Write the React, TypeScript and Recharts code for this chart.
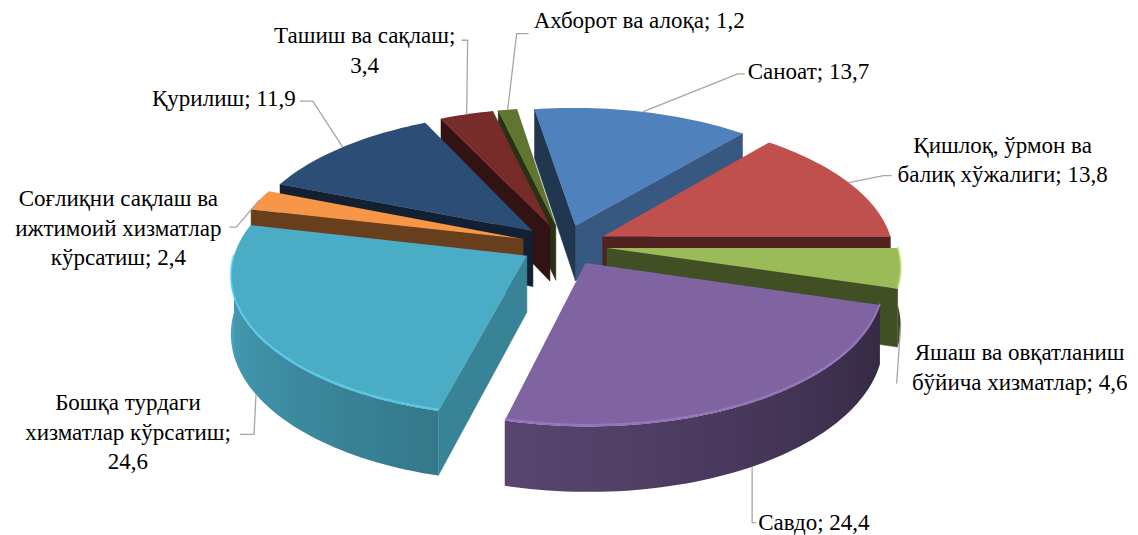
import React from 'react';
import { PieChart, Pie } from 'recharts';

const categories = [
  'Саноат',
  'Қишлоқ, ўрмон ва\nбалиқ хўжалиги',
  'Яшаш ва овқатланиш\nбўйича хизматлар',
  'Савдо',
  'Бошқа турдаги\nхизматлар кўрсатиш',
  'Соғлиқни сақлаш ва\nижтимоий хизматлар\nкўрсатиш',
  'Қурилиш',
  'Ташиш ва сақлаш',
  'Ахборот ва алоқа',
];
const shares = [13.7, 13.8, 4.6, 24.4, 24.6, 2.4, 11.9, 3.4, 1.2];
// value goes to its own line in these labels
const valueOnNewLine = [false, false, false, false, true, false, false, true, false];
const sliceColors = ['#4F81BD', '#C0504D', '#9BBB59', '#8064A2', '#4BACC6', '#F79646', '#2C4D75', '#772C2A', '#5F7530'];

const data = categories.map((name, i) => ({ name, value: shares[i], idx: i }));

// 3d look
const START = 99;
const TILT = 0.474;
const PERSP = 0.128;
const DEPTH = 56;
const EXPLODE = 43;
const RAD = Math.PI / 180;
const FONT = '"Liberation Serif", "Times New Roman", serif';

// leader line + text placement, relative to where the leader leaves the slice
const labelPlacement = [
  { elbow: [95, -38], end: [102, -38], text: [105, -41], anchor: 'start' },
  { elbow: [35, -7], end: [43, -7], text: [154, -38], anchor: 'middle' },
  { elbow: [-4, 58], end: [-4, 58], text: [119, 27], anchor: 'middle' },
  { elbow: [0, 56], end: [4, 56], text: [6, 55], anchor: 'start' },
  { elbow: [-2, 40], end: [-16, 40], text: [-128, 8], anchor: 'middle' },
  { elbow: [-23, 27], end: [-30, 27], text: [-141, -2], anchor: 'middle' },
  { elbow: [-30, -46], end: [-43, -46], text: [-47, -49], anchor: 'end' },
  { elbow: [1, -74], end: [-5, -74], text: [-102, -79], anchor: 'middle' },
  { elbow: [9, -76], end: [21, -76], text: [26, -90], anchor: 'start' },
];

type Pt = [number, number];

const total = shares.reduce((a, b) => a + b, 0);
const mids = (() => {
  let acc = 0;
  return shares.map((v) => {
    const m = START - ((acc + v / 2) / total) * 360;
    acc += v;
    return m;
  });
})();
// back slices first
const drawOrder = shares
  .map((_, i) => i)
  .sort((a, b) => Math.sin(mids[b] * RAD) - Math.sin(mids[a] * RAD));

const proj = (cx: number, cy: number, R: number, x: number, y: number, drop = 0): Pt => {
  const f = 1 / (1 + (PERSP * y) / R);
  return [cx + x * f, cy - TILT * y * f + drop * f];
};

const shade = (hex: string, s: number) => {
  const n = parseInt(hex.slice(1), 16);
  const c = [(n >> 16) & 255, (n >> 8) & 255, n & 255].map((v) => Math.max(0, Math.min(255, Math.round(v * s))));
  return `rgb(${c[0]},${c[1]},${c[2]})`;
};

const norm = (a: number) => ((a % 360) + 360) % 360;
const wallShade = (t: number) => {
  const a = norm(t) === 0 && Math.sin(t * RAD) <= 0 ? 360 : norm(t);
  return 0.95 - ((a - 180) / 180) * 0.6;
};
const sideShade = (n: number) => {
  const a = norm(n);
  return a >= 290 ? 0.6 + ((a - 290) / 70) * 0.2 : 0.42;
};

const pathOf = (pts: Pt[]) => 'M' + pts.map((p) => p[0].toFixed(2) + ',' + p[1].toFixed(2)).join('L') + 'Z';

const makeSolid = (layer: number) => (props: any) => {
  const { cx, cy, outerRadius: R, startAngle, endAngle, midAngle, payload } = props;
  const i = payload.idx;
  if (i !== drawOrder[layer]) return <g />;
  const base = sliceColors[i];
  const a1 = Math.min(startAngle, endAngle);
  const a2 = Math.max(startAngle, endAngle);
  const ox = EXPLODE * Math.cos(midAngle * RAD);
  const oy = EXPLODE * Math.sin(midAngle * RAD);
  const rim = (t: number, drop = 0) => proj(cx, cy, R, ox + R * Math.cos(t * RAD), oy + R * Math.sin(t * RAD), drop);
  const apex = (drop = 0) => proj(cx, cy, R, ox, oy, drop);
  const sample = (lo: number, hi: number) => {
    const n = Math.max(2, Math.ceil((hi - lo) / 1.5));
    return Array.from({ length: n + 1 }, (_, k) => lo + ((hi - lo) * k) / n);
  };
  const ts = sample(a1, a2);

  const parts: React.ReactNode[] = [];
  const defs: React.ReactNode[] = [];
  if (Math.cos(a1 * RAD) > 0) {
    const c = shade(base, sideShade(a1 - 90));
    parts.push(<path key="s1" d={pathOf([apex(), rim(a1), rim(a1, DEPTH), apex(DEPTH)])} fill={c} stroke={c} strokeWidth={0.5} />);
  }
  if (Math.cos(a2 * RAD) < 0) {
    const c = shade(base, sideShade(a2 + 90));
    parts.push(<path key="s2" d={pathOf([apex(), rim(a2), rim(a2, DEPTH), apex(DEPTH)])} fill={c} stroke={c} strokeWidth={0.5} />);
  }
  // outer wall, only the half that faces us
  for (let k = -2; k <= 1; k++) {
    const lo = Math.max(a1, 180 + 360 * k);
    const hi = Math.min(a2, 360 + 360 * k);
    if (hi - lo < 0.01) continue;
    const ws = sample(lo, hi);
    const topPts = ws.map((t) => rim(t));
    const botPts = ws.map((t) => rim(t, DEPTH)).reverse();
    const xs = topPts.map((p) => p[0]);
    const x0 = Math.min(...xs);
    const x1 = Math.max(...xs);
    const gid = `wall-${i}-${k + 2}`;
    defs.push(
      <linearGradient key={gid} id={gid} gradientUnits="userSpaceOnUse" x1={x0} y1={0} x2={x1} y2={0}>
        {ws.map((t, j) => (
          <stop key={j} offset={x1 > x0 ? (topPts[j][0] - x0) / (x1 - x0) : 0} stopColor={shade(base, wallShade(t))} />
        ))}
      </linearGradient>
    );
    parts.push(<path key={'w' + k} d={pathOf([...topPts, ...botPts])} fill={`url(#${gid})`} />);
    parts.push(
      <path
        key={'hl' + k}
        d={'M' + topPts.map((p) => p[0].toFixed(2) + ',' + (p[1] - 1.5).toFixed(2)).join('L')}
        fill="none"
        stroke={shade(base, 1.25)}
        strokeWidth={2}
        strokeOpacity={0.7}
        data-top="1"
      />
    );
  }
  const hl = parts.filter((p: any) => p && p.props && p.props['data-top']);
  const rest = parts.filter((p: any) => !(p && p.props && p.props['data-top']));
  return (
    <g>
      <defs>{defs}</defs>
      {rest}
      <path d={pathOf([apex(), ...ts.map((t) => rim(t))])} fill={base} />
      {hl}
    </g>
  );
};

const labelText = (i: number) => {
  const lines = categories[i].split('\n');
  const v = shares[i].toFixed(1).replace('.', ',');
  if (valueOnNewLine[i]) {
    lines[lines.length - 1] += ';';
    lines.push(v);
  } else {
    lines[lines.length - 1] += '; ' + v;
  }
  return lines;
};

const renderLabel = (props: any) => {
  const { cx, cy, outerRadius: R, midAngle, payload } = props;
  const i = payload.idx;
  const isFront = Math.sin(midAngle * RAD) < 0;
  const r = R + EXPLODE;
  const [sx, sy] = proj(cx, cy, R, r * Math.cos(midAngle * RAD), r * Math.sin(midAngle * RAD), isFront ? DEPTH : 0);
  const lp = labelPlacement[i];
  const lines = labelText(i);
  return (
    <g key={'lbl' + i}>
      <polyline
        points={`${sx},${sy} ${sx + lp.elbow[0]},${sy + lp.elbow[1]} ${sx + lp.end[0]},${sy + lp.end[1]}`}
        fill="none"
        stroke="#A6A6A6"
        strokeWidth={1.3}
      />
      <text
        x={sx + lp.text[0]}
        y={sy + lp.text[1] + 8}
        textAnchor={lp.anchor as any}
        fontFamily={FONT}
        fontSize={23}
        fill="#000"
      >
        {lines.map((ln, k) => (
          <tspan key={k} x={sx + lp.text[0]} dy={k === 0 ? 0 : 29.5}>
            {ln}
          </tspan>
        ))}
      </text>
    </g>
  );
};

export default function App() {
  return (
    <div style={{ position: 'absolute', left: 0, top: 0, width: 1138, height: 535, background: '#fff' }}>
      <PieChart width={1138} height={535} margin={{ top: 0, right: 0, bottom: 0, left: 0 }}>
        {drawOrder.map((_, layer) => (
          <Pie
            key={layer}
            data={data}
            dataKey="value"
            nameKey="name"
            cx={564}
            cy={245}
            outerRadius={290}
            startAngle={START}
            endAngle={START - 360}
            stroke="none"
            isAnimationActive={false}
            shape={makeSolid(layer)}
            label={layer === drawOrder.length - 1 ? renderLabel : false}
            labelLine={false}
          />
        ))}
      </PieChart>
    </div>
  );
}
